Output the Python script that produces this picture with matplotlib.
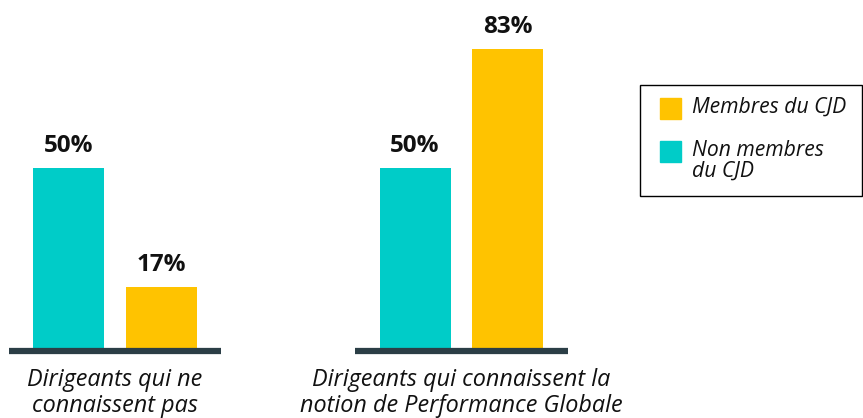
import matplotlib
matplotlib.use("Agg")
import matplotlib.pyplot as plt
from matplotlib.patches import Rectangle
import numpy as np

plt.rcParams['font.family'] = ['Open Sans', 'DejaVu Sans']

# ===================== données =====================
categories = ["Dirigeants qui ne\nconnaissent pas",
              "Dirigeants qui connaissent la\nnotion de Performance Globale"]
non_membres = [50, 50]
membres = [17, 83]
series_labels = ["Membres du CJD", "Non membres\ndu CJD"]

TEAL = "#00CCC8"
YELLOW = "#FFC300"
DARK = "#2B3E46"

# ===================== figure =====================
fig = plt.figure(figsize=(8.63, 4.18), dpi=100)
W, H = 863, 418
ax = fig.add_axes([0, 1 - 348 / H, 600 / W, 348 / H])

x = np.arange(len(categories))
bw = 0.205
off = 0.134

b1 = ax.bar(x - off, non_membres, bw, color=TEAL)
b2 = ax.bar(x + off, membres, bw, color=YELLOW)

for bars in (b1, b2):
    for r in bars:
        ax.annotate(f"{r.get_height():.0f}%", (r.get_x() + r.get_width() / 2, r.get_height()),
                    xytext=(0, 7), textcoords="offset points", ha="center", va="bottom",
                    fontsize=17.5, fontweight="bold", color="#111111")

# ligne de base sous chaque groupe
for xi in x:
    ax.plot([xi - 0.307, xi + 0.307], [-0.9, -0.9], color=DARK, lw=4.5,
            solid_capstyle="butt", clip_on=False)

for xi, lab in zip(x, categories):
    ax.annotate(lab, (xi, 0), xytext=(0, -14.5), textcoords="offset points",
                ha="center", va="top", fontsize=16.8, fontstyle="italic",
                color="#111111", linespacing=1.1)

ax.set_xlim(-0.332, 1.4)
ax.set_ylim(0, 96.5)
ax.axis("off")

# ===================== légende =====================
fig.patches.append(Rectangle((640 / W, 1 - 196 / H), 222 / W, 111 / H,
                             transform=fig.transFigure, fill=False,
                             edgecolor="black", lw=1.0))
leg_colors = [YELLOW, TEAL]
leg_tops = [98, 141]
for c, top, lab in zip(leg_colors, leg_tops, series_labels):
    fig.patches.append(Rectangle((660 / W, 1 - (top + 21) / H), 21 / W, 21 / H,
                                 transform=fig.transFigure, color=c))
    fig.text(692 / W, 1 - (top - 1) / H, lab, ha="left", va="top",
             fontsize=15.2, fontstyle="italic", color="#111111", linespacing=0.95)

fig.savefig("out.png", dpi=100)
